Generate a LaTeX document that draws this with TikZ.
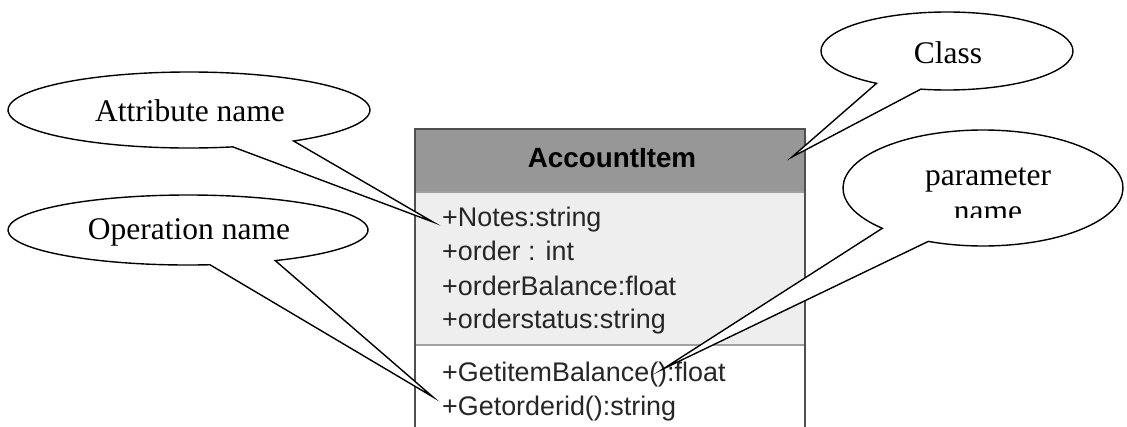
\documentclass[tikz,border=0pt]{standalone}
\usepackage{fontspec}
\setmainfont{Liberation Serif}
\newfontfamily\umlfont{Liberation Sans}
\definecolor{headgray}{HTML}{979797}
\definecolor{attrgray}{HTML}{EEEEEE}
\definecolor{framegray}{HTML}{505050}
\definecolor{sepgray}{HTML}{A0A0A0}
\definecolor{membertext}{HTML}{262626}
\begin{document}
\begin{tikzpicture}[x=1pt,y=-1pt,
  callout/.style={draw=black,line width=1.4pt,fill=white,line join=miter,miter limit=20},
  calltext/.style={font=\fontsize{31.5}{36}\selectfont,inner sep=0pt,anchor=base},
  member/.style={font=\umlfont\fontsize{26.9}{30}\selectfont,text=membertext,inner sep=0pt,anchor=base west},
  boxline/.style={draw=framegray,line width=2pt},
  sepline/.style={draw=sepgray,line width=2pt},
]
\useasboundingbox (0,0) rectangle (1127,426);
\clip (0,0) rectangle (1127,426);

% ---- class box: header, attribute and operation compartments ----
\path[fill=headgray] (415,129) rectangle (805,192);
\path[fill=attrgray] (415,192) rectangle (805,345);
\path[fill=white] (415,345) rectangle (805,440);
\draw[sepline] (415,192) -- (805,192);
\draw[sepline] (415,345) -- (805,345);
\draw[boxline] (415,440) -- (415,129) -- (805,129) -- (805,440);

\node[font=\umlfont\bfseries\fontsize{27.8}{30}\selectfont,inner sep=0pt,anchor=base]
  (cname) at (612,167) {AccountItem};
\node[member] (a1) at (442,226) {+Notes:string};
\node[member] (a2) at (442,260) {+order : int};
\node[member] (a3) at (442,295) {+orderBalance:float};
\node[member] (a4) at (442,328) {+orderstatus:string};
\node[member] (o1) at (442,381) {+GetitemBalance():float};
\node[member] (o2) at (442,415) {+Getorderid():string};

% ---- points the callout tails reach ----
\coordinate (attrtip)  at (433,222);
\coordinate (optip)    at (433,397);
\coordinate (classtip) at (792,157);
\coordinate (paramtip) at (663,369);

% ---- oval callouts ----
\draw[callout] (attrtip) -- ([shift={(189,110)}]76:181 and 38)
  arc[start angle=76,end angle=414.7,x radius=181,y radius=38] -- cycle;
\node[calltext] (attrlabel) at (190,121.5) {Attribute name};

\draw[callout] (optip) -- ([shift={(188,230)}]83:180 and 35)
  arc[start angle=83,end angle=421,x radius=180,y radius=35] -- cycle;
\node[calltext] (oplabel) at (189,239) {Operation name};

\draw[callout] (classtip) -- ([shift={(947,51)}]124:126 and 39)
  arc[start angle=124,end angle=462,x radius=126,y radius=39] -- cycle;
\node[calltext] (classlabel) at (948,63) {Class};

\draw[callout] (paramtip) -- ([shift={(983,188)}]136:140 and 58)
  arc[start angle=136,end angle=473,x radius=140,y radius=58] -- cycle;
\node[calltext] (paramlabel) at (988,185) {parameter};
\begin{scope}
  \clip (900,195) rectangle (1080,217);
  \node[calltext] (paramlabel2) at (988,221) {name};
\end{scope}
\end{tikzpicture}
\end{document}
